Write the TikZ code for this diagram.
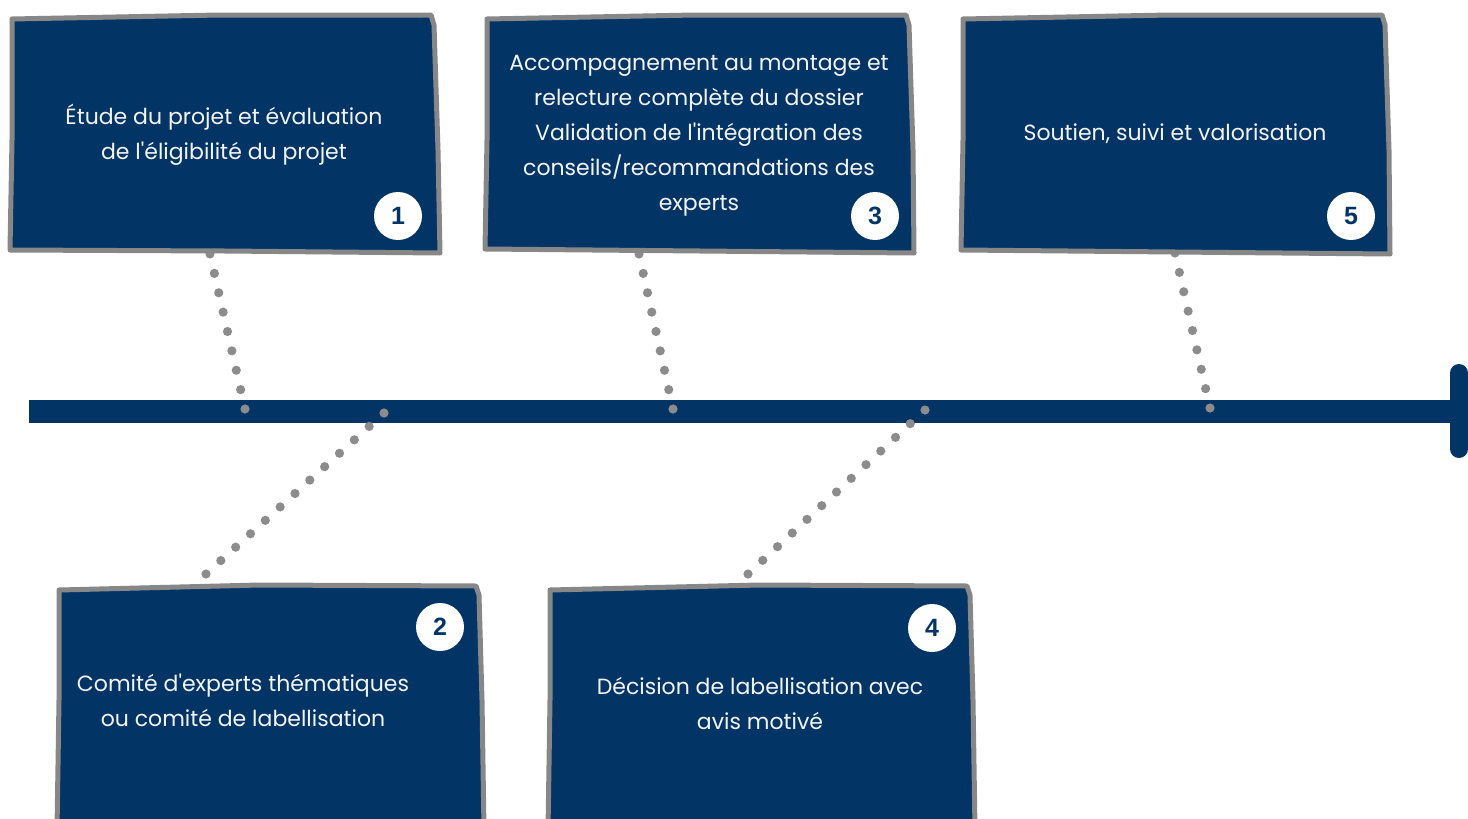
\documentclass[tikz,border=0pt]{standalone}
\usepackage{fontspec}
\setmainfont{Poppins}[Ligatures=TeXOff]
\newfontfamily\numfont{Liberation Sans}
\usetikzlibrary{calc}
\definecolor{navy}{HTML}{023566}
\definecolor{framegray}{HTML}{878787}
\definecolor{dotgray}{HTML}{8C8C8C}
\definecolor{txt}{HTML}{F4F4F4}
\begin{document}
\begin{tikzpicture}[x=1pt,y=-1pt,
  boxframe/.style={fill=navy,draw=framegray,line width=5pt,line join=round},
  steplabel/.style={text=txt,align=center,inner sep=0pt,font=\fontsize{22}{35}\selectfont},
  numcirc/.style={circle,fill=white,minimum size=48pt,inner sep=0pt,text=navy,font=\numfont\bfseries\fontsize{25}{25}\selectfont},
  dotc/.style={fill=dotgray}]
\useasboundingbox (0,0) rectangle (1468,819);
\clip (0,0) rectangle (1468,819);

% timeline
\coordinate (tlA) at (29,411.5);
\coordinate (tlB) at (1456,411.5);
\coordinate (capT) at (1459,373);
\coordinate (capB) at (1459,449);
\draw[navy,line width=23pt] (tlA) -- (tlB);
\draw[navy,line width=18pt,line cap=round] (capT) -- (capB);

% dotted connectors
\coordinate (d1a) at (210,254); \coordinate (d1b) at (245,409);
\coordinate (d3a) at (639,254); \coordinate (d3b) at (673,409);
\coordinate (d5a) at (1175,253); \coordinate (d5b) at (1210,408);
\coordinate (d2a) at (384,413); \coordinate (d2b) at (206,574);
\coordinate (d4a) at (925,410); \coordinate (d4b) at (748,574);
\foreach \a/\b in {d1a/d1b,d3a/d3b,d5a/d5b}{
  \foreach \i in {0,...,8}{\fill[dotc] ($(\a)!\i/8!(\b)$) circle (4.6pt);}
}
\foreach \a/\b in {d2a/d2b,d4a/d4b}{
  \foreach \i in {0,...,12}{\fill[dotc] ($(\a)!\i/12!(\b)$) circle (4.6pt);}
}

% boxes
\draw[boxframe] (12,19) -- (220,15) -- (431,15) -- (434,25) -- (438,150) -- (440,253) -- (225,251) -- (10,250) -- (12,140) -- cycle;
\draw[boxframe] (487,19) -- (695,15) -- (906,15) -- (909,25) -- (913,150) -- (914,253) -- (700,251) -- (485,249) -- (487,140) -- cycle;
\draw[boxframe] (963,19) -- (1170,15) -- (1382,15) -- (1385,25) -- (1389,150) -- (1390,254) -- (1175,252) -- (961,250) -- (963,140) -- cycle;
\draw[boxframe] (59,590) -- (260,585) -- (476,586) -- (479,595) -- (482,700) -- (484,830) -- (57,830) -- (59,700) -- cycle;
\draw[boxframe] (550,590) -- (760,585) -- (967,586) -- (970,595) -- (973,700) -- (975,830) -- (548,830) -- (550,700) -- cycle;

% texts
\node[steplabel] (t1) at (224,134.5) {Étude du projet et évaluation\\de l'éligibilité du projet};
\node[steplabel] (t3) at (699,135.5) {Accompagnement au montage et\\relecture complète du dossier\\Validation de l'intégration des\\conseils/recommandations des\\experts};
\node[steplabel] (t5) at (1175,134) {Soutien, suivi et valorisation};
\node[steplabel] (t2) at (243,700) {Comité d'experts thématiques\\ou comité de labellisation};
\node[steplabel] (t4) at (760,703.5) {Décision de labellisation avec\\avis motivé};

% numbers
\node[numcirc] (n1) at (398,216) {1};
\node[numcirc] (n3) at (875,216) {3};
\node[numcirc] (n5) at (1351,216) {5};
\node[numcirc] (n2) at (440,627) {2};
\node[numcirc] (n4) at (932,628) {4};
\end{tikzpicture}
\end{document}
